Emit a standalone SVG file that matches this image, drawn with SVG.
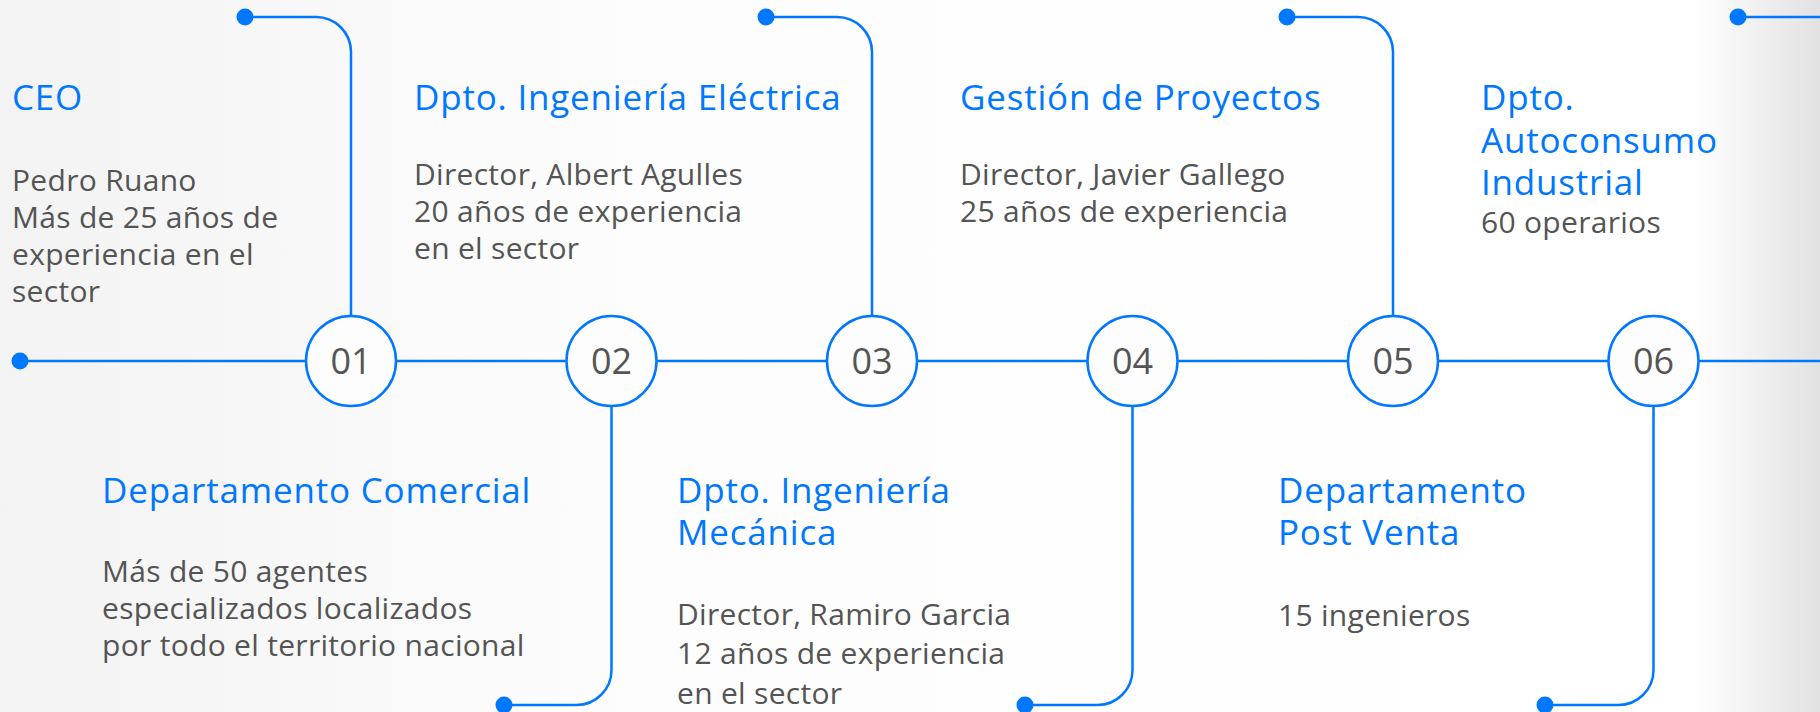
<svg xmlns="http://www.w3.org/2000/svg" width="1820" height="712" viewBox="0 0 1820 712">
<defs>
<linearGradient id="bg" x1="0" y1="0" x2="1820" y2="0" gradientUnits="userSpaceOnUse">
<stop offset="0" stop-color="#f3f3f3"/>
<stop offset="0.35" stop-color="#fdfdfd"/>
<stop offset="0.93" stop-color="#ffffff"/>
<stop offset="1" stop-color="#e2e2e2"/>
</linearGradient>
<style>
.ln{fill:none;stroke:#0077ff;stroke-width:2.5}
.dot{fill:#0077ff}
.ring{fill:#fdfdfd;stroke:#0077ff;stroke-width:2.5}
.num{font-family:"Open Sans","Liberation Sans",sans-serif;font-size:36px;font-weight:400;fill:#555555;text-anchor:middle}
.ttl{font-family:"Open Sans","Liberation Sans",sans-serif;font-size:35px;font-weight:500;fill:#0077ff;letter-spacing:0.8px}
.txt{font-family:"Open Sans","Liberation Sans",sans-serif;font-size:30px;font-weight:400;fill:#545454;letter-spacing:0.3px}
</style>
</defs>
<rect x="0" y="0" width="1820" height="712" fill="url(#bg)"/>
<g id="connectors">
<path class="ln" d="M20 361 H1820"/>
<circle class="dot" cx="20" cy="361" r="8.5"/>
<path class="ln" d="M351 316 V52 A35 35 0 0 0 316 17 H245"/>
<circle class="dot" cx="245" cy="17" r="8.5"/>
<path class="ln" d="M872 316 V52 A35 35 0 0 0 837 17 H766"/>
<circle class="dot" cx="766" cy="17" r="8.5"/>
<path class="ln" d="M1393 316 V52 A35 35 0 0 0 1358 17 H1287"/>
<circle class="dot" cx="1287" cy="17" r="8.5"/>
<path class="ln" d="M1738 17 H1820"/>
<circle class="dot" cx="1738" cy="17" r="8.5"/>
<path class="ln" d="M611.5 406 V670 A35 35 0 0 1 576.5 705 H504"/>
<circle class="dot" cx="504" cy="705" r="8.5"/>
<path class="ln" d="M1132.5 406 V670 A35 35 0 0 1 1097.5 705 H1025"/>
<circle class="dot" cx="1025" cy="705" r="8.5"/>
<path class="ln" d="M1653.5 406 V670 A35 35 0 0 1 1618.5 705 H1545"/>
<circle class="dot" cx="1545" cy="705" r="8.5"/>
</g>
<g id="step01"><circle class="ring" cx="351" cy="361" r="45"/><text class="num" x="351" y="374">01</text></g>
<g id="step02"><circle class="ring" cx="611.5" cy="361" r="45"/><text class="num" x="611.5" y="374">02</text></g>
<g id="step03"><circle class="ring" cx="872" cy="361" r="45"/><text class="num" x="872" y="374">03</text></g>
<g id="step04"><circle class="ring" cx="1132.5" cy="361" r="45"/><text class="num" x="1132.5" y="374">04</text></g>
<g id="step05"><circle class="ring" cx="1393" cy="361" r="45"/><text class="num" x="1393" y="374">05</text></g>
<g id="step06"><circle class="ring" cx="1653.5" cy="361" r="45"/><text class="num" x="1653.5" y="374">06</text></g>
<g id="ceo">
<text class="ttl" x="12" y="110">CEO</text>
<text class="txt" x="12" y="191">Pedro Ruano</text>
<text class="txt" x="12" y="228">Más de 25 años de</text>
<text class="txt" x="12" y="265">experiencia en el</text>
<text class="txt" x="12" y="302">sector</text>
</g>
<g id="ing-electrica">
<text class="ttl" x="414" y="110">Dpto. Ingeniería Eléctrica</text>
<text class="txt" x="414" y="185">Director, Albert Agulles</text>
<text class="txt" x="414" y="222">20 años de experiencia</text>
<text class="txt" x="414" y="259">en el sector</text>
</g>
<g id="proyectos">
<text class="ttl" x="960" y="110">Gestión de Proyectos</text>
<text class="txt" x="960" y="185">Director, Javier Gallego</text>
<text class="txt" x="960" y="222">25 años de experiencia</text>
</g>
<g id="autoconsumo">
<text class="ttl" x="1481" y="110">Dpto.</text>
<text class="ttl" x="1481" y="153">Autoconsumo</text>
<text class="ttl" x="1481" y="195">Industrial</text>
<text class="txt" x="1481" y="233">60 operarios</text>
</g>
<g id="comercial">
<text class="ttl" x="102" y="503">Departamento Comercial</text>
<text class="txt" x="102" y="582">Más de 50 agentes</text>
<text class="txt" x="102" y="619">especializados localizados</text>
<text class="txt" x="102" y="656">por todo el territorio nacional</text>
</g>
<g id="ing-mecanica">
<text class="ttl" x="677" y="503">Dpto. Ingeniería</text>
<text class="ttl" x="677" y="545">Mecánica</text>
<text class="txt" x="677" y="625">Director, Ramiro Garcia</text>
<text class="txt" x="677" y="664">12 años de experiencia</text>
<text class="txt" x="677" y="704">en el sector</text>
</g>
<g id="post-venta">
<text class="ttl" x="1278" y="503">Departamento</text>
<text class="ttl" x="1278" y="545">Post Venta</text>
<text class="txt" x="1278" y="626">15 ingenieros</text>
</g>
</svg>
